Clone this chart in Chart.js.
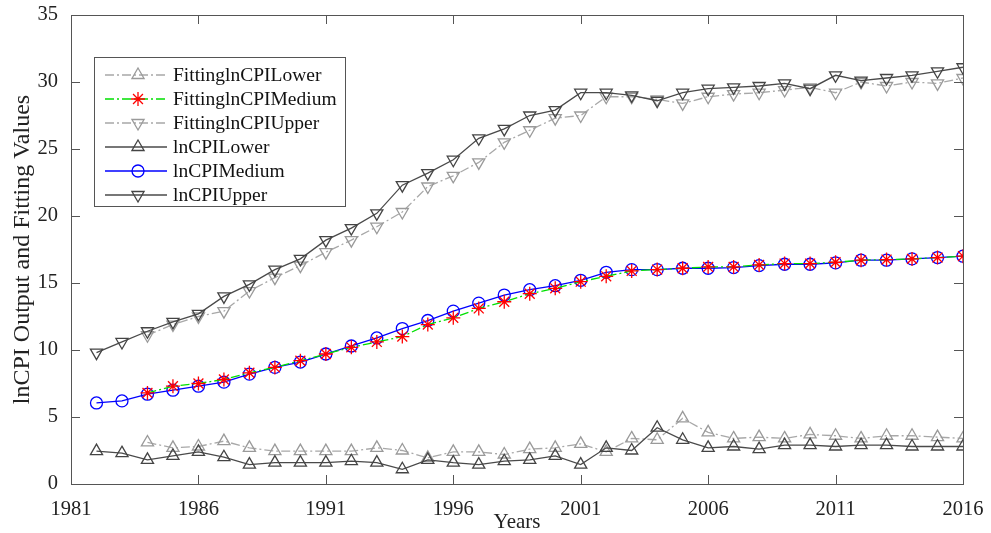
<!DOCTYPE html>
<html>
<head>
<meta charset="utf-8">
<script src="https://cdn.jsdelivr.net/npm/chart.js"></script>
<style>
  body { margin: 0; background: #fff; }
  #wrap { width: 991px; height: 533px; }
</style>
</head>
<body>
<div id="wrap"><canvas id="cpiChart" width="991" height="533"></canvas></div>
<script>
const years = [1982, 1983, 1984, 1985, 1986, 1987, 1988, 1989, 1990, 1991, 1992, 1993,
  1994, 1995, 1996, 1997, 1998, 1999, 2000, 2001, 2002, 2003, 2004, 2005,
  2006, 2007, 2008, 2009, 2010, 2011, 2012, 2013, 2014, 2015, 2016];
const tickYears = [1981, 1986, 1991, 1996, 2001, 2006, 2011, 2016];
const tickValues = [0, 5, 10, 15, 20, 25, 30, 35];

const fitLower = [null, null, 3.1, 2.7, 2.8, 3.2, 2.7, 2.45, 2.45, 2.45, 2.45, 2.7,
  2.5, 1.95, 2.4, 2.4, 2.2, 2.6, 2.7, 3.0, 2.4, 3.4, 3.3,
  4.9, 3.85, 3.4, 3.5, 3.4, 3.7, 3.6, 3.4, 3.6, 3.6, 3.5, 3.4];
const fitMedium = [null, null, 6.8, 7.3, 7.5, 7.8, 8.3, 8.7, 9.2, 9.7, 10.2, 10.6,
  11.0, 11.9, 12.4, 13.1, 13.6, 14.2, 14.6, 15.1, 15.5, 15.9, 16.0,
  16.1, 16.2, 16.2, 16.35, 16.45, 16.45, 16.55, 16.7, 16.75, 16.8, 16.9, 17.0];
const fitUpper = [null, null, 11.1, 11.9, 12.5, 12.9, 14.4, 15.4, 16.3, 17.3, 18.2, 19.2,
  20.3, 22.2, 23.0, 24.0, 25.5, 26.4, 27.3, 27.5, 28.9, 28.9, 28.7,
  28.4, 28.9, 29.1, 29.2, 29.4, 29.6, 29.2, 30.0, 29.7, 30.0, 29.9, 30.3];
const cpiLower = [2.45, 2.3, 1.8, 2.1, 2.4, 2.0, 1.45, 1.6, 1.6, 1.6, 1.7, 1.6,
  1.1, 1.8, 1.6, 1.45, 1.7, 1.8, 2.1, 1.45, 2.7, 2.5, 4.2,
  3.3, 2.7, 2.8, 2.6, 2.9, 2.9, 2.8, 2.9, 2.9, 2.8, 2.8, 2.8];
const cpiMedium = [6.05, 6.2, 6.7, 7.0, 7.3, 7.6, 8.2, 8.7, 9.1, 9.7, 10.3, 10.9,
  11.6, 12.2, 12.9, 13.5, 14.1, 14.5, 14.8, 15.2, 15.8, 16.0, 16.0,
  16.1, 16.1, 16.15, 16.3, 16.4, 16.4, 16.5, 16.7, 16.7, 16.8, 16.9, 17.0];
const cpiUpper = [9.8, 10.6, 11.4, 12.1, 12.7, 14.0, 14.9, 16.0, 16.8, 18.2, 19.1, 20.2,
  22.3, 23.2, 24.2, 25.8, 26.5, 27.5, 27.9, 29.2, 29.2, 29.0, 28.6,
  29.2, 29.5, 29.6, 29.7, 29.9, 29.5, 30.5, 30.1, 30.3, 30.5, 30.8, 31.1];

const serif = "'Liberation Serif', 'Times New Roman', serif";
const dashDot = [9, 3, 2, 3];

function toPoints(values) {
  return years.map((y, i) => ({ x: y, y: values[i] }));
}

function series(label, values, color, markColor, dash, style, rotation, radius, order) {
  return {
    label: label,
    data: toPoints(values),
    borderColor: color,
    borderWidth: 1.3,
    borderDash: dash,
    pointStyle: style,
    pointRotation: rotation,
    pointRadius: radius,
    pointBorderColor: markColor,
    pointBackgroundColor: 'rgba(0,0,0,0)',
    pointBorderWidth: 1.3,
    fill: false,
    tension: 0,
    spanGaps: false,
    order: order
  };
}

const datasets = [
  series('FittinglnCPILower', fitLower, '#a8a8a8', '#9a9a9a', dashDot, 'triangle', 0, 7, 6),
  series('FittinglnCPIMedium', fitMedium, '#00e000', '#ff0000', dashDot, 'star', 0, 7, 2),
  series('FittinglnCPIUpper', fitUpper, '#a8a8a8', '#9a9a9a', dashDot, 'triangle', 180, 7, 5),
  series('lnCPILower', cpiLower, '#4a4a4a', '#444444', [], 'triangle', 0, 7, 4),
  series('lnCPIMedium', cpiMedium, '#0000ff', '#0000ff', [], 'circle', 0, 6, 3),
  series('lnCPIUpper', cpiUpper, '#4a4a4a', '#444444', [], 'triangle', 180, 7, 1)
];

// MATLAB style frame with inward tick marks
const framePlugin = {
  id: 'frame',
  afterDatasetsDraw(chart) {
    const { ctx, chartArea: a, scales } = chart;
    ctx.save();
    ctx.strokeStyle = '#555';
    ctx.lineWidth = 1;
    ctx.strokeRect(a.left + 0.5, a.top + 0.5, a.right - a.left, a.bottom - a.top);
    ctx.beginPath();
    const len = 9;
    tickYears.forEach(v => {
      const x = Math.round(scales.x.getPixelForValue(v)) + 0.5;
      ctx.moveTo(x, a.bottom); ctx.lineTo(x, a.bottom - len);
      ctx.moveTo(x, a.top); ctx.lineTo(x, a.top + len);
    });
    tickValues.forEach(v => {
      const y = Math.round(scales.y.getPixelForValue(v)) + 0.5;
      ctx.moveTo(a.left, y); ctx.lineTo(a.left + len, y);
      ctx.moveTo(a.right, y); ctx.lineTo(a.right - len, y);
    });
    ctx.stroke();
    ctx.restore();
  }
};

// legend box drawn inside the plot, top left
const legendPlugin = {
  id: 'innerLegend',
  afterDraw(chart) {
    const ctx = chart.ctx;
    const a = chart.chartArea;
    const bx = a.left + 23, by = a.top + 42, bw = 251, bh = 149;
    ctx.save();
    ctx.fillStyle = '#fff';
    ctx.fillRect(bx, by, bw, bh);
    ctx.strokeStyle = '#555';
    ctx.lineWidth = 1;
    ctx.strokeRect(bx + 0.5, by + 0.5, bw, bh);
    chart.data.datasets.forEach((ds, i) => {
      const y = by + 18 + i * 24;
      ctx.beginPath();
      ctx.setLineDash(ds.borderDash);
      ctx.strokeStyle = ds.borderColor;
      ctx.lineWidth = ds.borderWidth;
      ctx.moveTo(bx + 11, y);
      ctx.lineTo(bx + 73, y);
      ctx.stroke();
      ctx.setLineDash([]);
      ctx.strokeStyle = ds.pointBorderColor;
      ctx.fillStyle = 'rgba(0,0,0,0)';
      ctx.lineWidth = ds.pointBorderWidth;
      Chart.helpers.drawPoint(ctx, {
        pointStyle: ds.pointStyle,
        rotation: ds.pointRotation,
        radius: ds.pointRadius,
        borderWidth: ds.pointBorderWidth
      }, bx + 44, y);
      ctx.fillStyle = '#111';
      ctx.font = '19.5px ' + serif;
      ctx.textBaseline = 'middle';
      ctx.fillText(ds.label, bx + 79, y + 1);
    });
    ctx.restore();
  }
};

new Chart(document.getElementById('cpiChart').getContext('2d'), {
  type: 'line',
  data: { datasets: datasets },
  options: {
    responsive: false,
    devicePixelRatio: 1,
    animation: false,
    layout: { padding: { top: 15, right: 28, left: 0, bottom: 0 } },
    plugins: {
      legend: { display: false },
      tooltip: { enabled: false }
    },
    scales: {
      x: {
        type: 'linear',
        min: 1981,
        max: 2016,
        afterBuildTicks: s => { s.ticks = tickYears.map(v => ({ value: v })); },
        afterFit: s => { s.height = 49; s.paddingLeft = 0; s.paddingRight = 0; },
        grid: { display: false, drawTicks: false },
        border: { display: false },
        ticks: {
          color: '#222',
          padding: 13,
          maxRotation: 0,
          autoSkip: false,
          font: { family: serif, size: 20.5 },
          callback: v => String(v)
        },
        title: {
          display: true,
          text: 'Years',
          color: '#222',
          font: { family: serif, size: 21 },
          padding: { top: 0, bottom: -2 }
        }
      },
      y: {
        min: 0,
        max: 35,
        afterBuildTicks: s => { s.ticks = tickValues.map(v => ({ value: v })); },
        afterFit: s => { s.width = 71; s.paddingTop = 0; s.paddingBottom = 0; },
        grid: { display: false, drawTicks: false },
        border: { display: false },
        ticks: {
          color: '#222',
          padding: 13,
          font: { family: serif, size: 20.5 },
          callback: v => String(v)
        },
        title: {
          display: true,
          text: 'lnCPI Output and Fitting Values',
          color: '#222',
          font: { family: serif, size: 24 },
          padding: { top: 8, bottom: 0 }
        }
      }
    }
  },
  plugins: [framePlugin, legendPlugin]
});
</script>
</body>
</html>
